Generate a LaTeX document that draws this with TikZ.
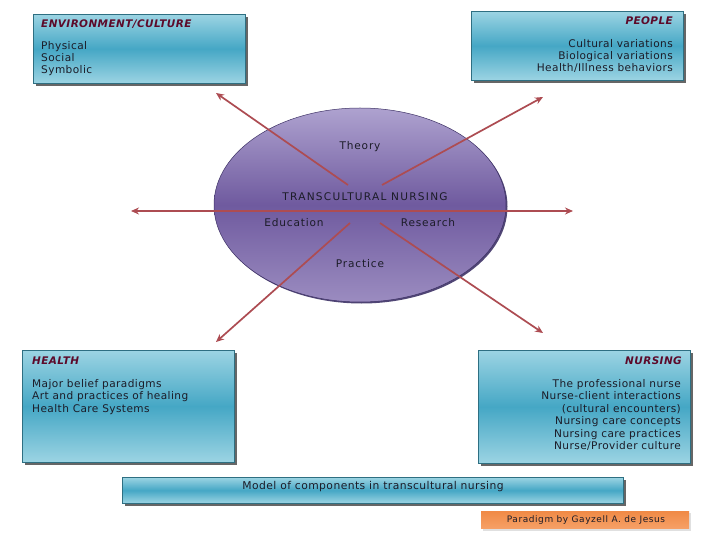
\documentclass[tikz,border=0pt]{standalone}
\usepackage{fontspec}
\setmainfont{DejaVu Sans}
\usetikzlibrary{shapes.geometric,shadows,arrows.meta}
\definecolor{boxmid}{HTML}{45A7C5}
\definecolor{boxlight}{HTML}{9CD4E3}
\definecolor{boxline}{HTML}{2E6F82}
\definecolor{titlecol}{HTML}{5C0A2A}
\definecolor{txt}{HTML}{1C1C28}
\definecolor{arrowcol}{HTML}{AD4C52}
\definecolor{elltop}{HTML}{AEA2CF}
\definecolor{ellmid}{HTML}{6F5A9F}
\definecolor{ellbot}{HTML}{9B8CC0}
\definecolor{ellline}{HTML}{3E3266}
\definecolor{orangebox}{HTML}{F08A46}
\definecolor{orangelight}{HTML}{F6A066}
\begin{document}
\begin{tikzpicture}[x=1bp,y=-1bp,
  box/.style={draw=boxline, line width=0.6bp, top color=boxlight, bottom color=boxlight, middle color=boxmid,
    drop shadow={shadow xshift=2.5bp, shadow yshift=-2.5bp, fill=black!80, opacity=0.75},
    anchor=north west, inner sep=0pt},
  ttl/.style={text=titlecol, font=\fontsize{10.5}{12}\selectfont\bfseries\itshape\addfontfeature{LetterSpace=4}, inner sep=0pt},
  body/.style={text=txt, font=\fontsize{10.6}{12.5}\selectfont\addfontfeature{LetterSpace=4}, inner sep=0pt},
  lab/.style={text=txt, font=\fontsize{10.6}{12.5}\selectfont\addfontfeature{LetterSpace=8}, inner sep=0pt},
  ell/.style={ellipse, minimum width=292bp, minimum height=194bp, inner sep=0pt,
    top color=elltop, bottom color=ellbot, middle color=ellmid, draw=ellline, line width=0.5bp,
    drop shadow={shadow xshift=1.5bp, shadow yshift=-1.5bp, fill=ellline, opacity=0.9}},
  arr/.style={draw=arrowcol, line width=1.7bp, -{Stealth[length=8bp,width=7bp]}},
  arrb/.style={draw=arrowcol, line width=1.7bp, {Stealth[length=8bp,width=7bp]}-{Stealth[length=8bp,width=7bp]}}
]
\useasboundingbox (0,0) rectangle (720,540);
\fill[white] (0,0) rectangle (720,540);

% boxes
\node[box, minimum width=212bp, minimum height=69bp] (env) at (33,14) {};
\node[ttl, anchor=base west] (envT) at (41,28) {ENVIRONMENT/CULTURE};
\node[body, anchor=base west] (env1) at (41,50) {Physical};
\node[body, anchor=base west] (env2) at (41,62) {Social};
\node[body, anchor=base west] (env3) at (41,74) {Symbolic};

\node[box, minimum width=212bp, minimum height=69bp] (peo) at (471,11) {};
\node[ttl, anchor=base east] (peoT) at (673,25) {PEOPLE};
\node[body, anchor=base east] (peo1) at (673,48) {Cultural variations};
\node[body, anchor=base east] (peo2) at (673,60) {Biological variations};
\node[body, anchor=base east] (peo3) at (673,72) {Health/Illness behaviors};

\node[box, minimum width=212bp, minimum height=112bp] (hea) at (22,350) {};
\node[ttl, anchor=base west] (heaT) at (32,364) {HEALTH};
\node[body, anchor=base west] (hea1) at (32,387) {Major belief paradigms};
\node[body, anchor=base west] (hea2) at (32,399.5) {Art and practices of healing};
\node[body, anchor=base west] (hea3) at (32,412) {Health Care Systems};

\node[box, minimum width=212bp, minimum height=113bp] (nur) at (478,350) {};
\node[ttl, anchor=base east] (nurT) at (682,364) {NURSING};
\node[body, anchor=base east] (nur1) at (681,387) {The professional nurse};
\node[body, anchor=base east] (nur2) at (681,399.5) {Nurse-client interactions};
\node[body, anchor=base east] (nur3) at (681,412) {(cultural encounters)};
\node[body, anchor=base east] (nur4) at (681,424.5) {Nursing care concepts};
\node[body, anchor=base east] (nur5) at (681,437) {Nursing care practices};
\node[body, anchor=base east] (nur6) at (681,449.5) {Nurse/Provider culture};

\node[box, minimum width=501bp, minimum height=26bp] (model) at (122,477) {};
\node[body, font=\fontsize{10.8}{12}\selectfont\addfontfeature{LetterSpace=4}] (modelT) at (373,487) {Model of components in transcultural nursing};

\fill[black!12] (483,513) rectangle (691,531);
\node[anchor=north west, inner sep=0pt, minimum width=208bp, minimum height=17bp,
      top color=orangebox, bottom color=orangelight] (para) at (481,511) {};
\node[text=txt, font=\fontsize{9}{10}\selectfont\addfontfeature{LetterSpace=6.5}, inner sep=0pt] (paraT) at (586,520) {Paradigm by Gayzell A. de Jesus};

% central ellipse
\node[ell] (tn) at (360,205) {};
\node[lab] (theory) at (360,147) {Theory};
\node[lab, font=\fontsize{10.6}{12.5}\selectfont\addfontfeature{LetterSpace=12}] (tnT) at (365,197) {TRANSCULTURAL NURSING};
\node[lab] (edu) at (294,223) {Education};
\node[lab] (res) at (428,223) {Research};
\node[lab] (prac) at (360,264) {Practice};

% connectors
\coordinate (tlS) at (348,185);
\coordinate (tlE) at (216,93);
\coordinate (trS) at (382,185);
\coordinate (trE) at (543,97);
\coordinate (blS) at (350,223);
\coordinate (blE) at (216,342);
\coordinate (brS) at (380,223);
\coordinate (brE) at (543,333);
\coordinate (lE) at (131,211);
\coordinate (rE) at (573,211);
\draw[arr] (tlS) -- (tlE);
\draw[arr] (trS) -- (trE);
\draw[arr] (blS) -- (blE);
\draw[arr] (brS) -- (brE);
\draw[arrb] (lE) -- (rE);
\end{tikzpicture}
\end{document}
